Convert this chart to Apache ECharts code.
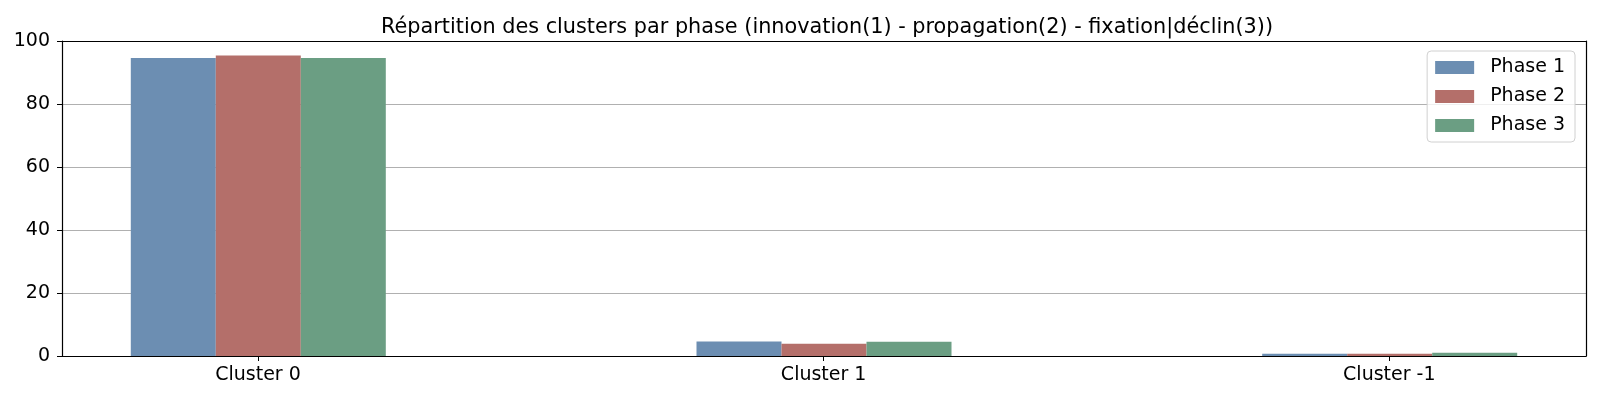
<!DOCTYPE html>
<html>
<head>
<meta charset="utf-8">
<script src="https://cdn.jsdelivr.net/npm/echarts@6/dist/echarts.min.js"></script>
<style>html,body{margin:0;padding:0;background:#fff}#c{width:1600px;height:400px}</style>
</head>
<body>
<div id="c"></div>
<script>
const categories = ['Cluster 0', 'Cluster 1', 'Cluster -1'];
const phase1 = [94.6, 4.6, 0.7];
const phase2 = [95.4, 3.9, 0.7];
const phase3 = [94.6, 4.5, 1.0];
const seriesNames = ['Phase 1', 'Phase 2', 'Phase 3'];
const colors = ['#6c8eb2', '#b46f6a', '#6b9e83'];
const yTicks = [0, 20, 40, 60, 80, 100];

const font = 'DejaVu Sans';
const chart = echarts.init(document.getElementById('c'), null, {renderer: 'canvas'});
const frameLine = {show: true, onZero: false, lineStyle: {color: '#000', width: 1.2}};
const catPos = categories.map((c, i) => i);
chart.setOption({
  animation: false,
  title: {
    text: 'Répartition des clusters par phase (innovation(1) - propagation(2) - fixation|déclin(3))',
    left: 822, top: 12, textAlign: 'center',
    textStyle: {fontFamily: font, fontSize: 20.8, fontWeight: 'normal', color: '#000'}
  },
  legend: {
    orient: 'vertical', right: 25, top: 51,
    itemWidth: 39, itemHeight: 13, itemGap: 10,
    padding: [7, 10, 7, 8],
    borderColor: '#d0d0d0', borderWidth: 1, borderRadius: 4,
    backgroundColor: 'rgba(255,255,255,0.8)',
    icon: 'rect',
    textStyle: {fontFamily: font, fontSize: 19, color: '#000', padding: [0, 0, 0, 11]},
    data: seriesNames
  },
  grid: [
    {left: 62, right: 14, top: 41, bottom: 44},
    {left: 258, right: 210.7, top: 41, bottom: 44}
  ],
  xAxis: [
    {type: 'value', gridIndex: 0, min: -0.347, max: 2.347, position: 'bottom',
     axisLine: frameLine, axisTick: {show: false}, axisLabel: {show: false}, splitLine: {show: false}},
    {type: 'value', gridIndex: 0, min: -0.347, max: 2.347, position: 'top',
     axisLine: frameLine, axisTick: {show: false}, axisLabel: {show: false}, splitLine: {show: false}},
    {type: 'category', gridIndex: 1, data: categories, boundaryGap: false,
     axisLine: {show: false},
     axisTick: {show: true, length: 5, lineStyle: {color: '#000'}},
     axisLabel: {margin: 10, fontFamily: font, fontSize: 19, color: '#000'},
     splitLine: {show: false}}
  ],
  yAxis: [
    {type: 'value', gridIndex: 0, min: 0, max: 100, interval: 20, position: 'left',
     axisLine: frameLine,
     axisTick: {show: true, length: 5, lineStyle: {color: '#000'}},
     axisLabel: {margin: 12, fontFamily: font, fontSize: 19, color: '#000',
       formatter: (v) => yTicks.includes(v) ? String(v) : ''},
     splitLine: {show: true, lineStyle: {color: '#b0b0b0', width: 1}}},
    {type: 'value', gridIndex: 0, min: 0, max: 100, interval: 20, position: 'right',
     axisLine: frameLine, axisTick: {show: false}, axisLabel: {show: false}, splitLine: {show: false}},
    {type: 'value', gridIndex: 1, min: 0, max: 100, show: false}
  ],
  series: [phase1, phase2, phase3].map((d, k) => ({
    name: seriesNames[k], type: 'bar', data: d.map((v, i) => [catPos[i], v]),
    xAxisIndex: 0, yAxisIndex: 0,
    barWidth: 85, barGap: '0%',
    itemStyle: {color: colors[k]}
  }))
});
</script>
</body>
</html>
